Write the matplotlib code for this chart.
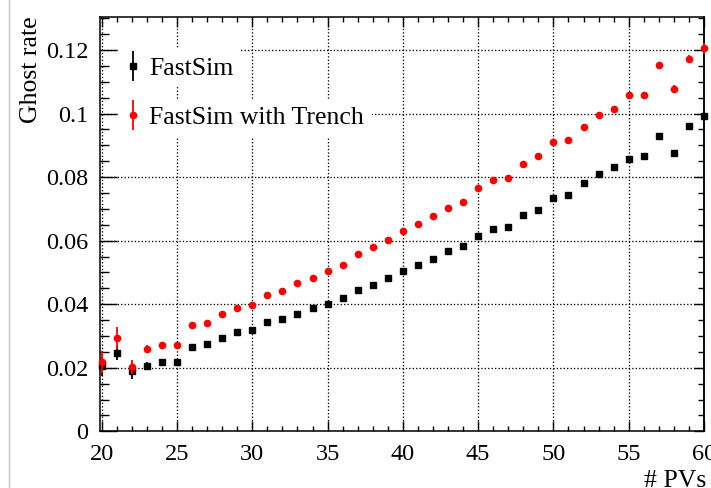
import matplotlib
matplotlib.use('Agg')
import matplotlib.pyplot as plt
from matplotlib.ticker import MultipleLocator, FixedLocator, FixedFormatter
from matplotlib.container import ErrorbarContainer
from matplotlib.legend_handler import HandlerErrorbar
from matplotlib.lines import Line2D

plt.rcParams['font.family'] = ['Liberation Serif', 'DejaVu Serif']

# number of primary vertices (bin centres)
npv = [20, 21, 22, 23, 24, 25, 26, 27, 28, 29, 30, 31, 32, 33, 34, 35, 36, 37, 38, 39, 40,
       41, 42, 43, 44, 45, 46, 47, 48, 49, 50, 51, 52, 53, 54, 55, 56, 57, 58, 59, 60]

# FastSim
ghost_fs = [0.0205, 0.0247, 0.0190, 0.0205, 0.0217, 0.0218, 0.0266, 0.0275, 0.0293, 0.0312,
            0.0319, 0.0345, 0.0353, 0.0370, 0.0387, 0.0401, 0.0421, 0.0444, 0.0462, 0.0482,
            0.0503, 0.0522, 0.0542, 0.0567, 0.0583, 0.0616, 0.0636, 0.0643, 0.0682, 0.0697,
            0.0734, 0.0744, 0.0780, 0.0811, 0.0831, 0.0856, 0.0866, 0.0930, 0.0875, 0.0960,
            0.0992]
err_fs = [0.0030, 0.0022, 0.0024, 0.0012, 0.0009, 0.0008, 0.0007, 0.0007, 0.0007, 0.0007,
          0.0007, 0.0006, 0.0006, 0.0006, 0.0006, 0.0006, 0.0006, 0.0006, 0.0006, 0.0006,
          0.0006, 0.0006, 0.0006, 0.0006, 0.0006, 0.0006, 0.0006, 0.0006, 0.0006, 0.0006,
          0.0006, 0.0007, 0.0007, 0.0007, 0.0007, 0.0007, 0.0008, 0.0009, 0.0009, 0.0011,
          0.0013]

# FastSim with Trench
ghost_tr = [0.0219, 0.0294, 0.0202, 0.0259, 0.0272, 0.0271, 0.0336, 0.0340, 0.0368, 0.0388,
            0.0399, 0.0430, 0.0441, 0.0466, 0.0482, 0.0505, 0.0525, 0.0558, 0.0579, 0.0601,
            0.0631, 0.0651, 0.0677, 0.0703, 0.0723, 0.0766, 0.0791, 0.0796, 0.0842, 0.0867,
            0.0912, 0.0918, 0.0957, 0.0995, 0.1013, 0.1057, 0.1060, 0.1152, 0.1079, 0.1171,
            0.1205]
err_tr = [0.0034, 0.0035, 0.0021, 0.0013, 0.0010, 0.0009, 0.0008, 0.0008, 0.0008, 0.0008,
          0.0008, 0.0007, 0.0007, 0.0007, 0.0007, 0.0007, 0.0007, 0.0007, 0.0007, 0.0007,
          0.0007, 0.0007, 0.0007, 0.0007, 0.0007, 0.0007, 0.0007, 0.0008, 0.0008, 0.0008,
          0.0008, 0.0008, 0.0008, 0.0008, 0.0009, 0.0009, 0.0009, 0.0010, 0.0011, 0.0013,
          0.0016]

yticks = [0, 0.02, 0.04, 0.06, 0.08, 0.1, 0.12]
yticklabels = ['0', '0.02', '0.04', '0.06', '0.08', '0.1', '0.12']

fig = plt.figure(figsize=(7.11, 4.88), dpi=100)
ax = fig.add_axes([99.5/711, 56.7/488, 604.5/711, 414.6/488])  # [left, bottom, width, height]

h1 = ax.errorbar(npv, ghost_fs, yerr=err_fs, fmt='s', color='black', ms=4.5,
                 elinewidth=1.3, capsize=0, label='FastSim', clip_on=False, zorder=3)
h2 = ax.errorbar(npv, ghost_tr, yerr=err_tr, fmt='o', color='red', ms=4.5,
                 elinewidth=1.3, capsize=0, label='FastSim with Trench', clip_on=False, zorder=4)

ax.set_xlim(19.85, 60)
ax.set_ylim(0, 0.1305)

ax.xaxis.set_major_locator(MultipleLocator(5))
ax.xaxis.set_minor_locator(MultipleLocator(1))
ax.yaxis.set_major_locator(FixedLocator(yticks))
ax.yaxis.set_major_formatter(FixedFormatter(yticklabels))
ax.yaxis.set_minor_locator(MultipleLocator(0.005))

ax.tick_params(axis='x', which='both', direction='in', top=True, bottom=True, width=1.0)
ax.tick_params(axis='x', which='major', length=7.2, labelsize=17.5, pad=9)
ax.tick_params(axis='x', which='minor', length=3.6)
ax.tick_params(axis='y', which='both', direction='in', left=True, right=False, width=1.0)
ax.tick_params(axis='y', which='major', length=12.5, labelsize=17.5, pad=8)
ax.tick_params(axis='y', which='minor', length=6.2)
for s in ax.spines.values():
    s.set_linewidth(1.1)

# right side ticks are shorter
sec = ax.secondary_yaxis('right')
sec.yaxis.set_major_locator(FixedLocator(yticks))
sec.yaxis.set_minor_locator(MultipleLocator(0.005))
sec.tick_params(which='both', direction='in', labelright=False, width=1.0)
sec.tick_params(which='major', length=7.5)
sec.tick_params(which='minor', length=4)
sec.spines['right'].set_linewidth(1.1)

ax.grid(True, which='major', color='black', linestyle=(0, (1, 1.6)), linewidth=0.95)

ax.set_ylabel('Ghost rate', fontsize=18.5, loc='top')
ax.yaxis.set_label_coords(-0.095, 1.0)
ax.set_xlabel('# PVs', fontsize=18.5, loc='right')
ax.xaxis.set_label_coords(1.004, -0.0933)

# one legend per entry, each with its own white box
hm = {ErrorbarContainer: HandlerErrorbar(yerr_size=0.58)}
legopts = dict(loc='center left', handler_map=hm, fontsize=18.5, frameon=True,
               facecolor='white', edgecolor='none', framealpha=1, fancybox=False,
               borderpad=0.3, handlelength=0.6, handletextpad=0.33, borderaxespad=0)
leg1 = ax.legend(handles=[h1], bbox_to_anchor=(0.030, 0.876), **legopts)
ax.add_artist(leg1)
leg2 = ax.legend(handles=[h2], bbox_to_anchor=(0.030, 0.756), **legopts)

# grey border line at the left of the screenshot
fig.add_artist(Line2D([8.5/711, 8.5/711], [0, 1], transform=fig.transFigure,
                      color='#c4c4c4', lw=1))

fig.savefig('out.png', dpi=100)
